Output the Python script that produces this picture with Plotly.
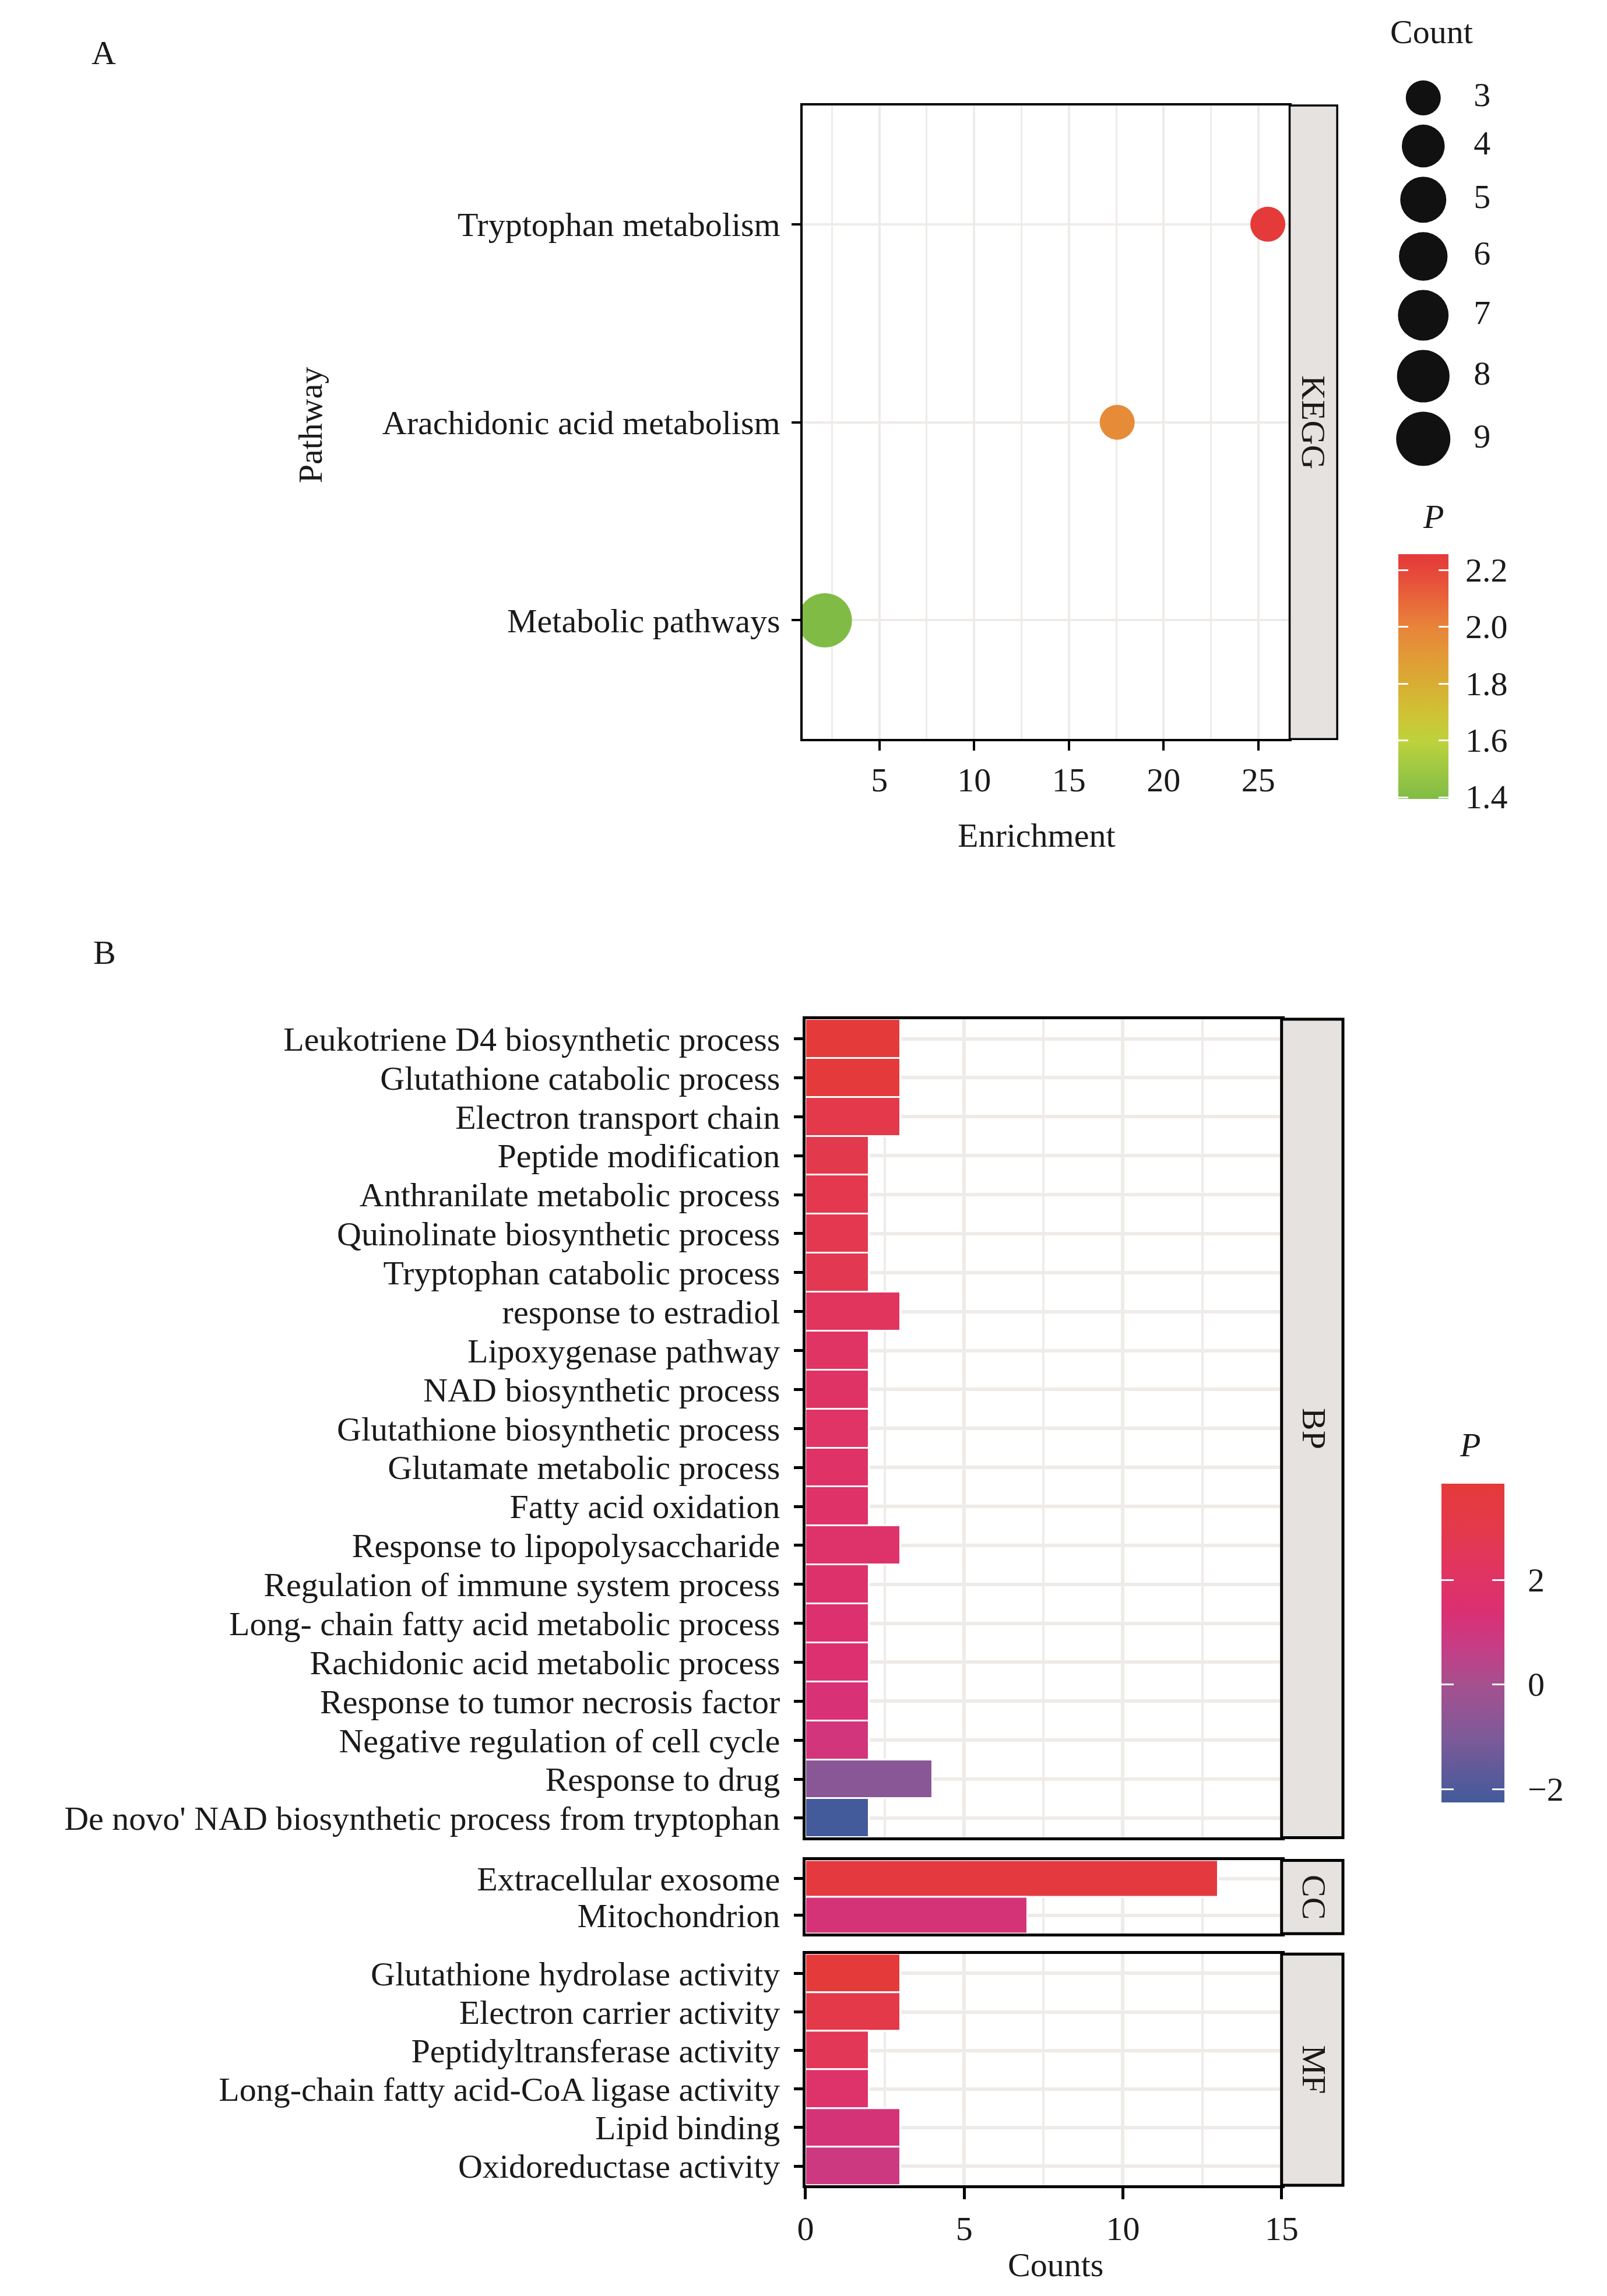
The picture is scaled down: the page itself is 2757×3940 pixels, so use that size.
import math
import plotly.graph_objects as go

W, H = 2757, 3940
FONT = "Liberation Serif"
TXT = "#1a1a1a"
FS = 58

# ---------------- Panel A data (KEGG) ----------------
kegg_pathways = ["Tryptophan metabolism", "Arachidonic acid metabolism", "Metabolic pathways"]
kegg_enrichment = [25.5, 17.55, 2.12]
kegg_count = [3, 3, 9]
kegg_p = [2.257, 1.96, 1.395]
count_legend = [3, 4, 5, 6, 7, 8, 9]
p_ticks_a = [1.4, 1.6, 1.8, 2.0, 2.2]
enrich_ticks = [5, 10, 15, 20, 25]

# ---------------- Panel B data (GO) ----------------
bp_terms = [
    "Leukotriene D4 biosynthetic process",
    "Glutathione catabolic process",
    "Electron transport chain",
    "Peptide modification",
    "Anthranilate metabolic process",
    "Quinolinate biosynthetic process",
    "Tryptophan catabolic process",
    "response to estradiol",
    "Lipoxygenase pathway",
    "NAD biosynthetic process",
    "Glutathione biosynthetic process",
    "Glutamate metabolic process",
    "Fatty acid oxidation",
    "Response to lipopolysaccharide",
    "Regulation of immune system process",
    "Long- chain fatty acid metabolic process",
    "Rachidonic acid metabolic process",
    "Response to tumor necrosis factor",
    "Negative regulation of cell cycle",
    "Response to drug",
    "De novo' NAD biosynthetic process from tryptophan",
]
bp_counts = [3, 3, 3, 2, 2, 2, 2, 3, 2, 2, 2, 2, 2, 3, 2, 2, 2, 2, 2, 4, 2]
bp_p = [3.85, 3.80, 3.0, 2.9, 2.85, 2.8, 2.75, 2.3, 2.1, 2.05, 2.0, 1.95, 1.9,
        1.8, 1.7, 1.6, 1.5, 1.3, 1.1, -0.7, -2.25]

cc_terms = ["Extracellular exosome", "Mitochondrion"]
cc_counts = [13, 7]
cc_p = [3.6, 1.2]

mf_terms = [
    "Glutathione hydrolase activity",
    "Electron carrier activity",
    "Peptidyltransferase activity",
    "Long-chain fatty acid-CoA ligase activity",
    "Lipid binding",
    "Oxidoreductase activity",
]
mf_counts = [3, 3, 2, 2, 3, 3]
mf_p = [3.85, 3.1, 2.6, 1.8, 1.2, 0.9]

count_ticks = [0, 5, 10, 15]
p_ticks_b = [-2, 0, 2]

# ---------------- styles ----------------
scale_a = [
    [0.0, "#80BC45"], [0.117, "#9DC743"], [0.233, "#BDD23C"], [0.35, "#CFC235"],
    [0.467, "#D8AE33"], [0.583, "#E29A36"], [0.70, "#E8843A"], [0.817, "#E8653A"],
    [0.933, "#E6463A"], [1.0, "#E53A3A"],
]
scale_b = [
    [0.0, "#435A9B"], [0.2, "#7C5A98"], [0.37, "#A6508F"], [0.5, "#C93B84"],
    [0.6, "#DB2F72"], [0.7, "#E03366"], [0.85, "#E3394C"], [1.0, "#E53A3A"],
]
GRID = "#EFEBE8"
STRIP = "#E6E2DF"


def fx(px):
    return px / W


def fy(py):
    return 1 - py / H


def dot_size(c):
    lo, hi = min(count_legend), max(count_legend)
    return 60 + 33 * math.sqrt((c - lo) / (hi - lo))


font = dict(family=FONT, size=FS, color=TXT)

# panel geometry (pixels)
A_L, A_R, A_T, A_B = 1376, 2225, 173, 1261
A_SR = 2308
B_L, B_R, B_SR = 1381, 2211, 2318
facets = {"BP": (1742, 3147), "CC": (3186, 3312), "MF": (3347, 3744)}
CBA = dict(x=2415, top=943, len=420, thick=86)
CBB = dict(x=2490, top=2539, len=547, thick=108)
TLA, TLB = 17, 21

fig = go.Figure()

# ---- Panel A dots ----
fig.add_trace(go.Scatter(
    x=kegg_enrichment, y=kegg_pathways, mode="markers",
    marker=dict(size=[dot_size(c) for c in kegg_count], color=kegg_p,
                coloraxis="coloraxis", line=dict(width=0), opacity=1),
    xaxis="x", yaxis="y", showlegend=False,
))
# invisible twin carrying the left-hand white ticks of colour bar A
fig.add_trace(go.Scatter(
    x=kegg_enrichment, y=kegg_pathways, mode="markers",
    marker=dict(size=1, color=kegg_p, coloraxis="coloraxis3", opacity=0),
    xaxis="x", yaxis="y", showlegend=False, hoverinfo="skip",
))

# ---- Panel B bars ----
for (terms, counts, pv, ax) in [(bp_terms, bp_counts, bp_p, 2),
                                (cc_terms, cc_counts, cc_p, 3),
                                (mf_terms, mf_counts, mf_p, 4)]:
    fig.add_trace(go.Bar(
        x=counts, y=terms, orientation="h", width=1,
        marker=dict(color=pv, coloraxis="coloraxis2",
                    line=dict(color="white", width=3)),
        xaxis=f"x{ax}", yaxis=f"y{ax}", showlegend=False,
    ))
    # invisible twin carrying the left-hand white ticks of colour bar B
    fig.add_trace(go.Scatter(
        x=counts, y=terms, mode="markers",
        marker=dict(size=1, color=pv, coloraxis="coloraxis4", opacity=0),
        xaxis=f"x{ax}", yaxis=f"y{ax}", showlegend=False, hoverinfo="skip",
    ))

# ---- Count size legend (pixel-space overlay axes) ----
leg_sizes = [dot_size(c) for c in count_legend]
leg_y = [160]
for i in range(1, len(count_legend)):
    leg_y.append(leg_y[-1] + (leg_sizes[i - 1] + leg_sizes[i]) / 2 + 16)
fig.add_trace(go.Scatter(
    x=[2458] * len(count_legend), y=leg_y, mode="markers",
    marker=dict(size=leg_sizes, color="#111111", opacity=1, line=dict(width=0)),
    xaxis="x5", yaxis="y5", showlegend=False, cliponaxis=False, hoverinfo="skip",
))
fig.add_trace(go.Scatter(
    x=[2546] * len(count_legend), y=leg_y, mode="text",
    text=[str(c) for c in count_legend], textposition="middle right",
    textfont=font, xaxis="x5", yaxis="y5", showlegend=False, cliponaxis=False,
    hoverinfo="skip",
))

axis_common = dict(showline=True, mirror=True, linecolor="black", zeroline=False,
                   tickfont=font, tickcolor="black", gridcolor=GRID)

layout = dict(
    width=W, height=H, margin=dict(l=0, r=0, t=0, b=0),
    paper_bgcolor="white", plot_bgcolor="rgba(0,0,0,0)",
    font=font, showlegend=False, bargap=0,
    xaxis=dict(domain=[fx(A_L), fx(A_R)], anchor="y", range=[0.95, 26.65],
               tickmode="array", tickvals=enrich_ticks, ticks="outside",
               ticklen=16, tickwidth=4, linewidth=3.5, showgrid=True, gridwidth=4,
               minor=dict(dtick=2.5, tick0=0, showgrid=True, gridcolor=GRID,
                          gridwidth=2.5, ticks=""),
               **axis_common),
    yaxis=dict(domain=[fy(A_B), fy(A_T)], anchor="x", type="category",
               categoryarray=kegg_pathways, range=[2.6, -0.6],
               tickmode="array", tickvals=kegg_pathways, ticktext=kegg_pathways,
               ticks="outside", ticklen=15, tickwidth=4, linewidth=3.5,
               ticklabelstandoff=8,
               showgrid=True, gridwidth=4, **axis_common),
    xaxis5=dict(domain=[0, 1], range=[0, W], visible=False, fixedrange=True),
    yaxis5=dict(domain=[0, 1], range=[H, 0], visible=False, fixedrange=True,
                anchor="x5"),
)

for name, ax in [("BP", 2), ("CC", 3), ("MF", 4)]:
    top, bot = facets[name]
    terms = {"BP": bp_terms, "CC": cc_terms, "MF": mf_terms}[name]
    bottom = name == "MF"
    layout[f"xaxis{ax}"] = dict(
        domain=[fx(B_L), fx(B_R)], anchor=f"y{ax}", range=[0, 15],
        tickmode="array", tickvals=count_ticks,
        ticks="outside" if bottom else "", showticklabels=bottom,
        ticklen=19, tickwidth=5, linewidth=5, showgrid=True, gridwidth=6,
        minor=dict(dtick=2.5, tick0=0, showgrid=True, gridcolor=GRID,
                   gridwidth=4, ticks=""),
        **axis_common)
    layout[f"yaxis{ax}"] = dict(
        domain=[fy(bot), fy(top)], anchor=f"x{ax}", type="category",
        categoryarray=terms, range=[len(terms) - 0.5, -0.5],
        tickmode="array", tickvals=terms, ticktext=terms,
        ticks="outside", ticklen=15, tickwidth=5, linewidth=5,
        ticklabelstandoff=12,
        showgrid=True, gridwidth=6, **axis_common)

# colour axes
pa_min, pa_max = min(kegg_p), max(kegg_p)
all_pb = bp_p + cc_p + mf_p
pb_min, pb_max = min(all_pb), max(all_pb)


def colorbar(cb, ticks, ticklen, thick=None):
    return dict(x=fx(cb["x"]), xanchor="left", y=fy(cb["top"]), yanchor="top",
                len=cb["len"] / H, lenmode="fraction",
                thickness=thick if thick else cb["thick"],
                thicknessmode="pixels", outlinewidth=0, xpad=0, ypad=0,
                ticks="inside", ticklen=ticklen, tickwidth=3, tickcolor="white",
                tickmode="array", tickvals=ticks, showticklabels=False)


layout["coloraxis"] = dict(colorscale=scale_a, cmin=pa_min, cmax=pa_max,
                           colorbar=colorbar(CBA, p_ticks_a, TLA))
layout["coloraxis2"] = dict(colorscale=scale_b, cmin=pb_min, cmax=pb_max,
                            colorbar=colorbar(CBB, p_ticks_b, TLB))
layout["coloraxis3"] = dict(colorscale=scale_a, cmin=pa_min, cmax=pa_max,
                            colorbar=colorbar(CBA, p_ticks_a, TLA, thick=TLA))
layout["coloraxis4"] = dict(colorscale=scale_b, cmin=pb_min, cmax=pb_max,
                            colorbar=colorbar(CBB, p_ticks_b, TLB, thick=TLB))

shapes = []
annotations = []


def ann(text, x, y, angle=0, xanchor="center", **kw):
    annotations.append(dict(text=text, x=fx(x), y=fy(y), xref="paper", yref="paper",
                            showarrow=False, textangle=angle, font=font,
                            xanchor=xanchor, yanchor="middle", **kw))


# colour-bar tick labels, placed with the colour bar's own linear value mapping
def cb_labels(cb, ticks, vmin, vmax, fmt, gap):
    for v in ticks:
        py = cb["top"] + (vmax - v) / (vmax - vmin) * cb["len"]
        ann(fmt(v), cb["x"] + cb["thick"] + gap, py, xanchor="left")


cb_labels(CBA, p_ticks_a, pa_min, pa_max, lambda v: f"{v:.1f}", 28)
cb_labels(CBB, p_ticks_b, pb_min, pb_max,
          lambda v: ("\u2212" if v < 0 else "") + str(abs(v)), 40)

# strips
shapes.append(dict(type="rect", xref="paper", yref="paper", x0=fx(A_R), x1=fx(A_SR),
                   y0=fy(A_B), y1=fy(A_T), fillcolor=STRIP,
                   line=dict(color="black", width=3.5), layer="above"))
ann("KEGG", (A_R + A_SR) / 2, (A_T + A_B) / 2, angle=90)
for name, (top, bot) in facets.items():
    shapes.append(dict(type="rect", xref="paper", yref="paper", x0=fx(B_R), x1=fx(B_SR),
                       y0=fy(bot), y1=fy(top), fillcolor=STRIP,
                       line=dict(color="black", width=5), layer="above"))
    ann(name, (B_R + B_SR) / 2 + 3, (top + bot) / 2, angle=90)

# titles and labels
ann("A", 158, 83)
ann("B", 159, 1627)
ann("Pathway", 518, 722, angle=-90)
ann("Enrichment", 1784, 1426)
ann("Counts", 1817, 3880)
ann("Count", 2472, 47)
ann("<i>P</i>", 2475, 879)
ann("<i>P</i>", 2540, 2473)

layout["shapes"] = shapes
layout["annotations"] = annotations
fig.update_layout(**layout)
fig.write_html("out.html")
